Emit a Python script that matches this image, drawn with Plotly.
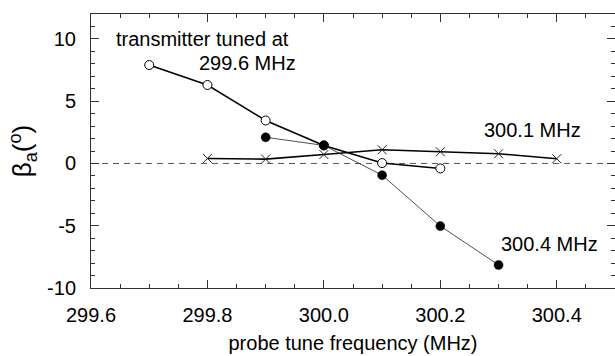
import plotly.graph_objects as go

# Data
x_open = [299.7, 299.8, 299.9, 300.0, 300.1, 300.2]
y_open = [7.9, 6.3, 3.45, 1.45, 0.03, -0.4]

x_cross = [299.8, 299.9, 300.0, 300.1, 300.2, 300.3, 300.4]
y_cross = [0.4, 0.35, 0.72, 1.1, 0.94, 0.78, 0.38]

x_filled = [299.9, 300.0, 300.1, 300.2, 300.3]
y_filled = [2.1, 1.45, -0.94, -5.03, -8.15]

FONT = "Liberation Sans, Arial, sans-serif"

fig = go.Figure()
fig.add_trace(go.Scatter(
    x=x_open, y=y_open, mode="lines+markers",
    line=dict(color="black", width=1.6),
    marker=dict(symbol="circle", size=9, color="white", line=dict(color="black", width=1)),
    showlegend=False))
fig.add_trace(go.Scatter(
    x=x_cross, y=y_cross, mode="lines+markers",
    line=dict(color="black", width=1.6),
    marker=dict(symbol="x-thin", size=9, line=dict(color="#222", width=1)),
    showlegend=False))
fig.add_trace(go.Scatter(
    x=x_filled, y=y_filled, mode="lines+markers",
    line=dict(color="#222", width=0.8),
    marker=dict(symbol="circle", size=9, color="black", line=dict(color="black", width=0.5)),
    showlegend=False))

fig.add_shape(type="line", xref="paper", yref="y", x0=0, x1=1, y0=0, y1=0,
              line=dict(color="#555", width=1, dash="6px,5px"), layer="below")

ann_font = dict(family=FONT, size=20, color="black")
fig.add_annotation(x=299.639, y=10.0, text="transmitter tuned at", showarrow=False,
                   xanchor="left", yanchor="middle", font=ann_font)
fig.add_annotation(x=299.782, y=8.1, text="299.6 MHz", showarrow=False,
                   xanchor="left", yanchor="middle", font=ann_font)
fig.add_annotation(x=300.272, y=2.65, text="300.1 MHz", showarrow=False,
                   xanchor="left", yanchor="middle", font=ann_font)
fig.add_annotation(x=300.301, y=-6.5, text="300.4 MHz", showarrow=False,
                   xanchor="left", yanchor="middle", font=ann_font)

axis_common = dict(
    showline=True, linecolor="#333", linewidth=1, mirror="ticks",
    ticks="inside", tickcolor="#333", tickwidth=1, ticklen=8,
    showgrid=False, zeroline=False,
    tickfont=dict(family=FONT, size=20, color="black"),
)

fig.update_xaxes(
    range=[299.6, 300.5], tickmode="linear", tick0=299.6, dtick=0.2,
    tickformat=".1f", ticklabelstandoff=9,
    minor=dict(ticks="inside", dtick=0.05, tick0=299.6, ticklen=4, tickcolor="#333", showgrid=False),
    title=dict(text="probe tune frequency (MHz)", font=dict(family=FONT, size=20, color="black"), standoff=10),
    **axis_common)
fig.update_yaxes(
    range=[-10, 12], tickmode="array", tickvals=[-10, -5, 0, 5, 10],
    ticktext=["-10", "-5", "0", "5", "10"], ticklabelstandoff=10,
    minor=dict(ticks="inside", dtick=1, tick0=0, ticklen=4, tickcolor="#333", showgrid=False),
    title=dict(text="β<sub>a</sub>(<sup>o</sup>)", font=dict(family=FONT, size=26, color="black"), standoff=7),
    **axis_common)

fig.update_layout(
    width=615, height=356,
    margin=dict(l=91, r=0, t=14, b=68),
    paper_bgcolor="white", plot_bgcolor="white",
)

fig.write_html("out.html")
